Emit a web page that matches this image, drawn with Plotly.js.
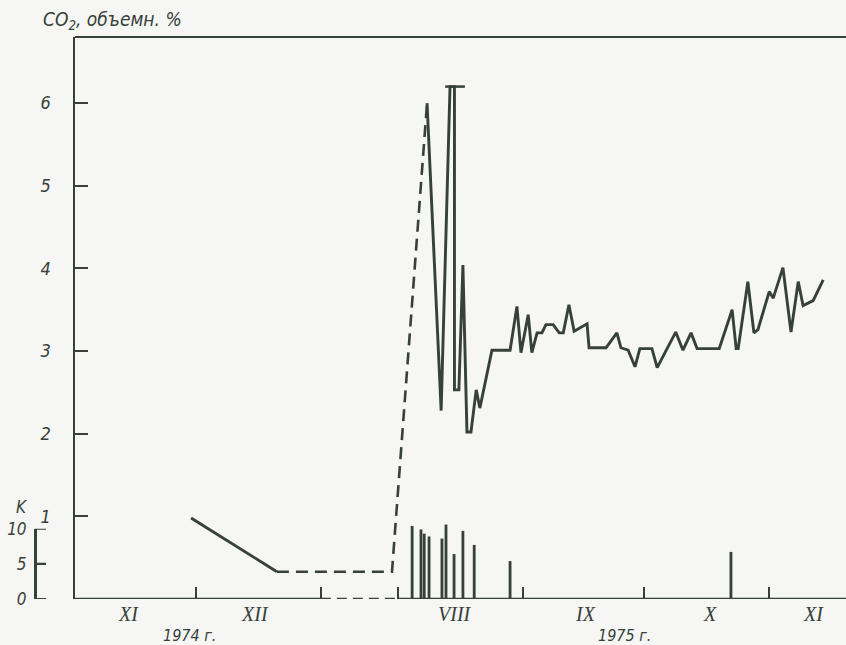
<!DOCTYPE html>
<html><head><meta charset="utf-8">
<script src="https://cdn.plot.ly/plotly-3.0.1.min.js"></script>
<style>html,body{margin:0;padding:0;background:#f6f6f4;}</style>
</head><body><div id="chart" style="width:846px;height:645px;"></div>
<script>
// ---- data ----
// 1974 part: days since 1974-11-01
const co2Days1974 = [28.8, 50.1];
const co2Values1974 = [0.98, 0.33];
// dashed bridge (no measurements): days since 1975-08-01
const gapDays1975 = [-1.5, 7.2];
const gapValues = [0.33, 6.0];
// 1975 part: days since 1975-08-01
const co2Days1975 = [7.2, 10.7, 12.9, 14.0, 14.0, 15.1, 16.1, 17.1, 18.1, 19.4,
  20.3, 23.3, 27.8, 29.5, 30.5, 32.3, 33.2, 34.5, 35.7, 36.7,
  38.5, 40.0, 41.0, 42.4, 43.7, 45.7, 46.9, 47.4, 51.6, 54.3,
  55.3, 57.1, 58.8, 60.0, 63.0, 64.3, 68.9, 70.7, 72.7, 74.2,
  79.7, 82.9, 83.9, 84.4, 86.8, 88.3, 89.3, 92.1, 93.1, 95.5,
  97.5, 99.3, 100.5, 103.0, 105.5];
const co2Values1975 = [6.00, 2.28, 6.20, 6.20, 2.53, 2.53, 4.04, 2.02, 2.02, 2.53,
  2.31, 3.01, 3.01, 3.54, 2.98, 3.44, 2.98, 3.22, 3.22, 3.32,
  3.32, 3.22, 3.22, 3.56, 3.24, 3.29, 3.33, 3.04, 3.04, 3.22,
  3.04, 3.01, 2.81, 3.03, 3.03, 2.80, 3.23, 3.01, 3.22, 3.03,
  3.03, 3.50, 3.03, 3.03, 3.84, 3.22, 3.26, 3.72, 3.64, 4.01,
  3.23, 3.84, 3.55, 3.61, 3.86];
// off-scale cap
const capDays1975 = [11.7, 16.6];
const capValues = [6.2, 6.2];
// K bars: days since 1975-08-01
const kDays1975 = [3.5, 5.7, 6.5, 7.7, 10.9, 11.9, 13.9, 16.1, 18.9, 27.8, 82.6];
const kValues = [10.4, 9.9, 9.3, 8.9, 8.6, 10.6, 6.4, 9.7, 7.7, 5.4, 6.7];
// month boundaries and labels
const monthStarts1974 = [30, 61];
const monthStarts1975 = [0, 31, 61, 92];
const monthLabels = ['XI', 'XII', 'VIII', 'IX', 'X', 'XI'];
const monthLabelYears = [1974, 1974, 1975, 1975, 1975, 1975];
const monthLabelDays = [13.2, 44.7, 14.1, 46.4, 77.4, 103.2];
const yearLabels = ['1974 г.', '1975 г.'];
const yearLabelYears = [1974, 1975];
const yearLabelDays = [28.5, 56.3];
const co2Ticks = [1, 2, 3, 4, 5, 6];
const kTicks = [0, 5, 10];

// ---- axis mapping (Jan–Jul 1975 compressed) ----
const GAP_START = 61;     // 1975-01-01 in axis units
const AUG_1975 = 80.15;   // 1975-08-01 in axis units
const X_MAX = 191.3;
function toAxis(year, d) { return year === 1974 ? d : AUG_1975 + d; }

const INK = '#36413a';
const FONT = 'DejaVu Sans Condensed, DejaVu Sans, sans-serif';

const traces = [
  { type: 'bar', x: kDays1975.map(d => toAxis(1975, d)), y: kValues, yaxis: 'y3',
    width: 0.7, marker: { color: INK, line: { width: 0 } }, hoverinfo: 'skip', showlegend: false },
  { type: 'scatter', mode: 'lines', x: co2Days1974.map(d => toAxis(1974, d)), y: co2Values1974,
    line: { color: INK, width: 2.9 }, hoverinfo: 'skip', showlegend: false },
  { type: 'scatter', mode: 'lines',
    x: [toAxis(1974, co2Days1974[co2Days1974.length - 1])].concat(gapDays1975.map(d => toAxis(1975, d))),
    y: [co2Values1974[co2Values1974.length - 1]].concat(gapValues),
    line: { color: INK, width: 2.6, dash: '12px,7px' }, hoverinfo: 'skip', showlegend: false },
  { type: 'scatter', mode: 'lines', x: co2Days1975.map(d => toAxis(1975, d)), y: co2Values1975,
    line: { color: INK, width: 2.9 }, hoverinfo: 'skip', showlegend: false },
  { type: 'scatter', mode: 'lines', x: capDays1975.map(d => toAxis(1975, d)), y: capValues,
    line: { color: INK, width: 2.5 }, hoverinfo: 'skip', showlegend: false },
  { type: 'scatter', mode: 'markers', x: [null], y: [null], yaxis: 'y2', hoverinfo: 'skip', showlegend: false }
];

const W = 816; // paper width (846 - left margin 30)
const tickVals = monthStarts1974.map(d => toAxis(1974, d)).concat(monthStarts1975.map(d => toAxis(1975, d)));

const annotations = [
  { text: 'CO<sub>2</sub>, объемн. %', xref: 'paper', yref: 'paper', x: 11 / W, y: 1.029,
    xanchor: 'left', yanchor: 'middle', showarrow: false,
    font: { family: FONT, size: 19, style: 'italic', color: INK } },
  { text: 'K', xref: 'paper', yref: 'paper', x: -8 / W, y: 0.164,
    xanchor: 'center', yanchor: 'middle', showarrow: false,
    font: { family: FONT, size: 17, style: 'italic', color: INK } }
];
monthLabels.forEach((t, i) => annotations.push({
  text: t, xref: 'x', yref: 'paper', x: toAxis(monthLabelYears[i], monthLabelDays[i]), y: -0.026,
  xanchor: 'center', yanchor: 'middle', showarrow: false,
  font: { family: 'Liberation Serif, serif', size: 20, style: 'italic', color: INK }
}));
yearLabels.forEach((t, i) => annotations.push({
  text: t, xref: 'x', yref: 'paper', x: toAxis(yearLabelYears[i], yearLabelDays[i]), y: -0.065,
  xanchor: 'center', yanchor: 'middle', showarrow: false,
  font: { family: FONT, size: 16, style: 'italic', color: INK }
}));

const shapes = [
  { type: 'line', xref: 'x', yref: 'y', x0: 0, x1: GAP_START, y0: 0, y1: 0, line: { color: INK, width: 2.5 } },
  { type: 'line', xref: 'x', yref: 'y', x0: GAP_START, x1: AUG_1975, y0: 0, y1: 0, line: { color: INK, width: 2.5, dash: '10px,6px' } },
  { type: 'line', xref: 'x', yref: 'y', x0: AUG_1975, x1: X_MAX, y0: 0, y1: 0, line: { color: INK, width: 2.5 } },
  { type: 'line', xref: 'paper', yref: 'paper', x0: 45 / W, x1: 1, y0: 1, y1: 1, line: { color: INK, width: 2.2 } }
];
// K-scale bracket ticks (pointing right)
kTicks.forEach(k => shapes.push({ type: 'line', xref: 'paper', yref: 'y2', x0: 5 / W, x1: 16 / W, y0: k, y1: k,
  line: { color: INK, width: 2.2 } }));

const layout = {
  width: 846, height: 645,
  margin: { l: 30, r: 0, t: 37, b: 46 },
  paper_bgcolor: '#f6f6f4', plot_bgcolor: 'rgba(0,0,0,0)',
  showlegend: false,
  xaxis: { domain: [45 / W, 1], range: [0, X_MAX], anchor: 'y', showline: false, zeroline: false, showgrid: false,
    tickmode: 'array', tickvals: tickVals, showticklabels: false,
    ticks: 'inside', ticklen: 12, tickwidth: 2, tickcolor: INK },
  yaxis: { domain: [0, 1], range: [0, 6.8], anchor: 'x', showline: true, linewidth: 2.5, linecolor: INK,
    zeroline: false, showgrid: false, tickmode: 'array', tickvals: co2Ticks,
    ticks: 'inside', ticklen: 13, tickwidth: 2, tickcolor: INK, ticklabelstandoff: 18,
    tickfont: { family: FONT, size: 18, style: 'italic', color: INK } },
  yaxis2: { domain: [0, 0.125], range: [0, 10], anchor: 'free', position: 5 / W, side: 'left',
    showline: true, linewidth: 2.5, linecolor: INK, zeroline: false, showgrid: false,
    tickmode: 'array', tickvals: kTicks, ticks: '',
    ticklabelstandoff: 4, tickfont: { family: FONT, size: 17, style: 'italic', color: INK } },
  yaxis3: { overlaying: 'y', anchor: 'x', range: [0, 80], visible: false, showgrid: false, zeroline: false },
  annotations: annotations,
  shapes: shapes
};

Plotly.newPlot('chart', traces, layout, { staticPlot: true, displayModeBar: false });
</script></body></html>
